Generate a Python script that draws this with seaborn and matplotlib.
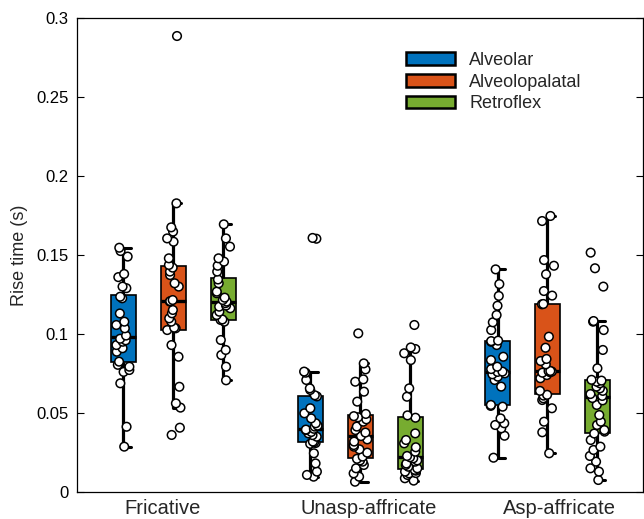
import numpy as np
import pandas as pd
import matplotlib
matplotlib.use("Agg")
import matplotlib.pyplot as plt
from matplotlib.patches import Patch
import seaborn as sns

# Categories
manners = ["Fricative", "Unasp-affricate", "Asp-affricate"]
places = ["Alveolar", "Alveolopalatal", "Retroflex"]
place_colors = ["#0072BD", "#D95319", "#77AC30"]

# Rise times (s) per token
fric_alveolar = [0.0287, 0.0413, 0.0688, 0.076, 0.0772, 0.0793, 0.0805, 0.0825,
                 0.0888, 0.091, 0.093, 0.0951, 0.096, 0.097, 0.099, 0.1036,
                 0.1057, 0.1078, 0.113, 0.1226, 0.1236, 0.129, 0.130, 0.136,
                 0.138, 0.149, 0.1525, 0.1546]
fric_alveolopalatal = [0.0361, 0.0407, 0.0534, 0.0561, 0.0666, 0.0856, 0.093,
                       0.1025, 0.1036, 0.104, 0.1078, 0.1099, 0.1131, 0.1152,
                       0.1205, 0.1208, 0.1215, 0.13, 0.1321, 0.1373, 0.1395,
                       0.142, 0.1437, 0.1479, 0.1584, 0.1605, 0.1648, 0.1675,
                       0.1827, 0.2886]
fric_retroflex = [0.0707, 0.0793, 0.0867, 0.0899, 0.0962, 0.1078, 0.1089,
                  0.1092, 0.112, 0.1141, 0.1163, 0.1173, 0.118, 0.1195, 0.1205,
                  0.1215, 0.123, 0.1258, 0.1268, 0.1321, 0.1345, 0.1395,
                  0.1432, 0.1458, 0.1479, 0.1553, 0.1605, 0.1694]

unasp_alveolar = [0.0097, 0.0108, 0.0129, 0.0181, 0.0245, 0.0305, 0.031, 0.0315,
                  0.0319, 0.035, 0.036, 0.0371, 0.038, 0.0392, 0.0395, 0.040,
                  0.0414, 0.042, 0.0435, 0.0466, 0.0498, 0.053, 0.0605, 0.0612,
                  0.0646, 0.0656, 0.0709, 0.0755, 0.0762, 0.1603, 0.1608]
unasp_alveolopalatal = [0.0065, 0.0097, 0.0118, 0.015, 0.0171, 0.0192, 0.020,
                        0.021, 0.0224, 0.0249, 0.027, 0.0287, 0.0297, 0.0319,
                        0.0333, 0.0354, 0.0376, 0.0392, 0.0414, 0.0445, 0.046,
                        0.0473, 0.048, 0.0494, 0.0572, 0.0635, 0.0698, 0.0713,
                        0.0776, 0.0814, 0.1004]
unasp_retroflex = [0.0072, 0.0087, 0.0108, 0.0118, 0.012, 0.0129, 0.0135, 0.014,
                   0.015, 0.016, 0.0171, 0.018, 0.0192, 0.020, 0.0213, 0.022,
                   0.0228, 0.0255, 0.0283, 0.0308, 0.0329, 0.0371, 0.047,
                   0.0485, 0.0603, 0.0656, 0.0835, 0.0878, 0.0905, 0.0915,
                   0.1057]

asp_alveolar = [0.0217, 0.0356, 0.0403, 0.0424, 0.0435, 0.0466, 0.054, 0.0545,
                0.0551, 0.0667, 0.0709, 0.073, 0.0745, 0.0751, 0.076, 0.0762,
                0.0778, 0.0793, 0.0835, 0.0856, 0.093, 0.0951, 0.0955, 0.0958,
                0.1025, 0.1074, 0.112, 0.1179, 0.1241, 0.1316, 0.1409]
asp_alveolopalatal = [0.0245, 0.0378, 0.0445, 0.053, 0.0582, 0.0593, 0.061,
                      0.0615, 0.064, 0.072, 0.074, 0.0755, 0.0758, 0.0762,
                      0.0765, 0.0766, 0.0808, 0.0829, 0.0842, 0.0913, 0.0983,
                      0.1188, 0.119, 0.1243, 0.1272, 0.1378, 0.1432, 0.1468,
                      0.1715, 0.1747]
asp_retroflex = [0.0076, 0.0129, 0.015, 0.0192, 0.0228, 0.0266, 0.0287, 0.0329,
                 0.037, 0.0382, 0.0392, 0.0424, 0.0445, 0.0487, 0.0551, 0.058,
                 0.0595, 0.0608, 0.062, 0.064, 0.0656, 0.0667, 0.0688, 0.0698,
                 0.0705, 0.071, 0.0783, 0.0899, 0.1025, 0.1078, 0.1082, 0.13,
                 0.1416, 0.1515]

y_ticks = [0, 0.05, 0.1, 0.15, 0.2, 0.25, 0.3]
y_tick_labels = ["0", "0.05", "0.1", "0.15", "0.2", "0.25", "0.3"]

groups = {
    ("Fricative", "Alveolar"): fric_alveolar,
    ("Fricative", "Alveolopalatal"): fric_alveolopalatal,
    ("Fricative", "Retroflex"): fric_retroflex,
    ("Unasp-affricate", "Alveolar"): unasp_alveolar,
    ("Unasp-affricate", "Alveolopalatal"): unasp_alveolopalatal,
    ("Unasp-affricate", "Retroflex"): unasp_retroflex,
    ("Asp-affricate", "Alveolar"): asp_alveolar,
    ("Asp-affricate", "Alveolopalatal"): asp_alveolopalatal,
    ("Asp-affricate", "Retroflex"): asp_retroflex,
}
rows = []
for (manner, place), vals in groups.items():
    for v in vals:
        rows.append({"manner": manner, "place": place, "rise": v})
df = pd.DataFrame(rows)

sns.set_theme(style="white")
plt.rcParams["font.family"] = ["Liberation Sans", "DejaVu Sans"]

fig = plt.figure(figsize=(6.44, 5.19), dpi=100)
ax = fig.add_axes([77 / 644, 27 / 519, 566 / 644, 474 / 519])

capw = 0.04
sns.boxplot(
    data=df, x="manner", y="rise", hue="place",
    order=manners, hue_order=places, palette=place_colors,
    saturation=1, width=0.8, gap=0.5, dodge=True, whis=1.5,
    showfliers=False, linecolor="black", linewidth=1.2,
    medianprops=dict(linewidth=2.4, color="black"),
    whiskerprops=dict(linewidth=2.3, color="black"),
    capprops=dict(linewidth=2.2, color="black", gid="cap"),
    capwidths=capw, legend=False, ax=ax,
)
# caps drawn as short ticks to the right of each whisker
for ln in ax.lines:
    if ln.get_gid() == "cap":
        xd = np.asarray(ln.get_xdata(), dtype=float)
        ln.set_xdata(xd + capw / 2)

np.random.seed(3)
sns.stripplot(
    data=df, x="manner", y="rise", hue="place",
    order=manners, hue_order=places, dodge=True, jitter=0.12,
    palette=["white"] * 3, edgecolor="black", linewidth=1.1, size=6.2,
    legend=False, ax=ax, zorder=5,
)

ax.set_xlim(-0.515, 2.511)
ax.set_ylim(0, 0.3)
ax.set_yticks(y_ticks)
ax.set_yticklabels(y_tick_labels)
# category labels sit slightly off the group centres
ax.set_xticks([-0.056, 1.046, 2.067])
ax.set_xticklabels(manners)
ax.set_xlabel("")
ax.set_ylabel("Rise time (s)", fontsize=13, labelpad=6)
ax.tick_params(axis="y", direction="in", length=5, width=0.8,
               left=True, right=True, labelsize=12, colors="black", pad=6)
ax.tick_params(axis="x", length=0, labelsize=14.5, pad=5)
for s in ax.spines.values():
    s.set_visible(True)
    s.set_color("black")
    s.set_linewidth(0.9)

handles = [Patch(facecolor=c, edgecolor="black", linewidth=1.8) for c in place_colors]
ax.legend(handles, places, loc="upper left", bbox_to_anchor=(0.581, 0.928),
          frameon=False, fontsize=13, handlelength=2.7, handleheight=0.7,
          handletextpad=0.8, labelspacing=0.25, borderpad=0, borderaxespad=0)

fig.savefig("out.png", dpi=100)
